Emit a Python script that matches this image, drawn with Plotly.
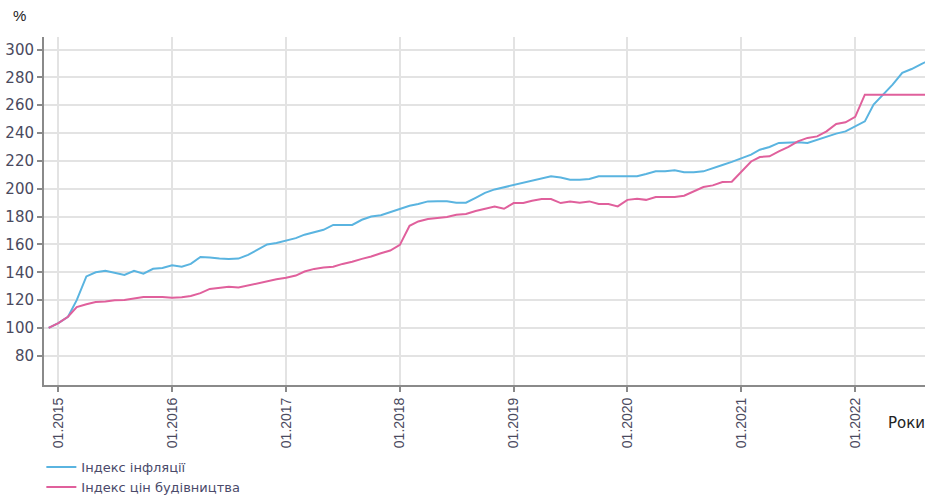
import plotly.graph_objects as go
import pandas as pd

months = pd.date_range("2014-12-01", "2022-09-01", freq="MS")

inflation = [100,
    103.5, 108, 120, 137, 140, 141, 139.5, 138, 141, 139, 142.5, 143,
    145, 144, 146, 151, 150.6, 149.8, 149.6, 149.8, 152.5, 156, 160, 161,
    163, 164.5, 167, 168.6, 170.5, 174, 174, 174, 177.7, 180, 181, 183.2,
    186, 187.8, 189, 190.9, 191, 191, 190, 190, 193.5, 197, 199.5, 201,
    202.4, 204, 205.8, 207.4, 208.9, 208, 206.5, 206.5, 207, 208.9, 208.9, 208.9,
    208.9, 209, 210.6, 212.5, 212.5, 213.2, 211.8, 211.8, 212.5, 214.5, 217, 219.3,
    222, 224.5, 228, 230, 232.9, 233.3, 233.3, 232.9, 235.3, 237.6, 239.6, 241.2,
    244.8, 248.4, 260.4, 267.6, 274.8, 283.2, 286, 289.5, 293]

construction = [100,
    103.5, 108, 115, 117, 118.6, 119, 119.8, 120, 121, 122.3, 122.3, 122.3,
    121.6, 122, 123, 125, 128, 128.7, 129.5, 129, 130.6, 132, 133.2, 134.9,
    136, 137.6, 140.5, 142.4, 143.4, 144, 146, 147.5, 149.6, 151.3, 153.7, 155.6,
    159.7, 173.4, 176.5, 178.2, 179, 179.7, 181.3, 181.8, 184, 185.5, 187.3, 185.6,
    189.7, 189.7, 191.4, 192.6, 192.6, 189.7, 190.9, 190, 190.9, 189, 189, 187.3,
    192, 192.8, 192, 194, 194, 194, 195, 198, 201.2, 202.4, 204.8, 205,
    212.5, 219.6, 222.8, 223.3, 226.8, 230, 234, 236.5, 237.6, 241.2, 246.5, 247.7,
    251.6, 267.6, 267.6, 267.6, 267.6, 267.6, 267.6, 267.6, 267.6]

series_names = ["Індекс інфляції", "Індекс цін будівництва"]
y_ticks = [80, 100, 120, 140, 160, 180, 200, 220, 240, 260, 280, 300]

font_family = "Liberation Sans, Arial, sans-serif"
wide_family = "DejaVu Sans, Verdana, sans-serif"
tick_color = "#4a4a5e"

fig = go.Figure()
fig.add_trace(go.Scatter(x=months, y=inflation, mode="lines", name=series_names[0],
                         line=dict(color="#5ab4e0", width=2)))
fig.add_trace(go.Scatter(x=months, y=construction, mode="lines", name=series_names[1],
                         line=dict(color="#e0609c", width=2)))

fig.update_layout(
    width=925, height=495,
    margin=dict(l=44, r=0, t=37, b=110, autoexpand=False),
    paper_bgcolor="white", plot_bgcolor="white",
    font=dict(family=font_family, color=tick_color),
    showlegend=True,
    legend=dict(x=-0.003, y=-0.193, xanchor="left", yanchor="top",
                font=dict(size=13, color="#4a4a6a", family=wide_family),
                tracegroupgap=0, bgcolor="rgba(0,0,0,0)"),
    xaxis=dict(
        type="date",
        range=["2014-11-16", "2022-08-13"],
        tick0="2015-01-01", dtick="M12", tickformat="%m.%Y",
        tickangle=-90,
        tickfont=dict(size=14, color=tick_color),
        showgrid=True, gridcolor="#e3e3e3", gridwidth=2,
        showline=True, linecolor="#8a8a8a", linewidth=2,
        ticks="outside", ticklen=5, tickcolor="#8a8a8a", tickwidth=2,
        zeroline=False, automargin=False,
    ),
    yaxis=dict(
        range=[59, 309],
        tickvals=y_ticks,
        tickfont=dict(size=15, color=tick_color, family=wide_family),
        showgrid=True, gridcolor="#e3e3e3", gridwidth=2,
        showline=True, linecolor="#8a8a8a", linewidth=2,
        ticks="outside", ticklen=5, tickcolor="#8a8a8a", tickwidth=2,
        zeroline=False, automargin=False,
    ),
    annotations=[
        dict(text="%", xref="paper", yref="paper", x=-0.038, y=1.062,
             xanchor="left", yanchor="middle", showarrow=False,
             font=dict(size=15, color="#222222")),
        dict(text="Роки", xref="paper", yref="paper", x=0.956, y=-0.109,
             xanchor="left", yanchor="middle", showarrow=False,
             font=dict(size=15, color="#222222", family=wide_family)),
    ],
)

fig.write_html("out.html", config={"displayModeBar": False},
               post_script="document.body.style.margin='0';document.body.style.overflow='hidden';")
